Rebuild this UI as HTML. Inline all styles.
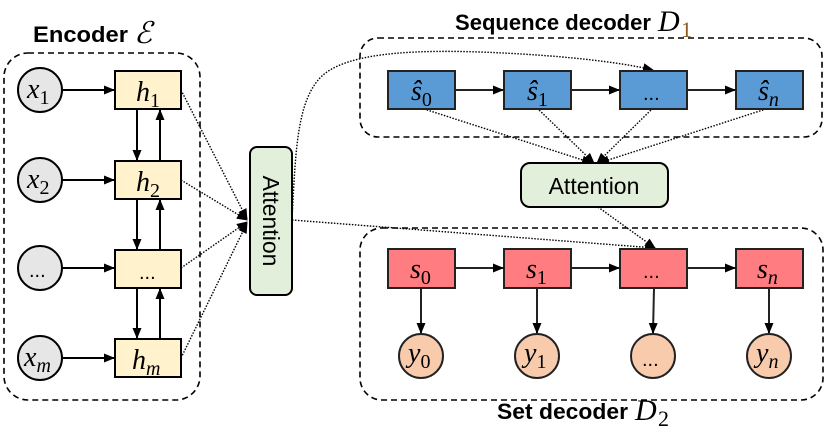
<!DOCTYPE html>
<html><head><meta charset="utf-8"><style>
html,body{margin:0;padding:0;background:#fff;}
svg{display:block;}
.t{font-family:"Liberation Sans",sans-serif;font-weight:bold;font-size:22px;fill:#000;}
.m{font-family:"Liberation Serif",serif;font-style:italic;font-size:28px;fill:#000;}
.s{font-family:"Liberation Serif",serif;font-size:20px;fill:#000;font-style:normal;}
.d{font-family:"Liberation Sans",sans-serif;font-size:20px;fill:#000;}
</style></head><body>
<svg width="830" height="439" viewBox="0 0 830 439" xmlns="http://www.w3.org/2000/svg">
<defs>
<marker id="a" markerWidth="11" markerHeight="9" refX="10" refY="4.5" orient="auto" markerUnits="userSpaceOnUse"><path d="M0,0 L11,4.5 L0,9 Z" fill="#000"/></marker>
</defs>
<!-- titles -->
<text class="t" x="33" y="42" textLength="95" lengthAdjust="spacingAndGlyphs">Encoder</text>
<text class="m" x="134" y="43" style="font-size:30px">ℰ</text>
<text class="t" x="455" y="30" textLength="196" lengthAdjust="spacingAndGlyphs">Sequence decoder</text>
<text class="m" x="658" y="31" style="font-size:30px">D</text>
<text class="s" x="681" y="37" style="fill:#8a5a20;font-size:22px">1</text>
<text class="t" x="497" y="419" textLength="131" lengthAdjust="spacingAndGlyphs">Set decoder</text>
<text class="m" x="635" y="420" style="font-size:30px">D</text>
<text class="s" x="658" y="426" style="font-size:22px">2</text>
<!-- dashed containers -->
<rect x="4" y="53" width="196" height="347" rx="24" fill="none" stroke="#000" stroke-width="1.6" stroke-dasharray="6,4"/>
<rect x="360" y="38" width="462" height="99" rx="18" fill="none" stroke="#000" stroke-width="1.6" stroke-dasharray="6,4"/>
<rect x="360" y="228" width="463" height="172" rx="22" fill="none" stroke="#000" stroke-width="1.6" stroke-dasharray="6,4"/>
<!-- encoder -->
<g stroke="#000" stroke-width="2">
<circle cx="40" cy="90" r="22" fill="#e6e6e6"/>
<circle cx="40" cy="180" r="22" fill="#e6e6e6"/>
<circle cx="40" cy="268" r="22" fill="#e6e6e6"/>
<circle cx="40" cy="358" r="22" fill="#e6e6e6"/>
<rect x="115" y="71" width="66" height="38" fill="#fff2cc"/>
<rect x="115" y="161" width="66" height="38" fill="#fff2cc"/>
<rect x="115" y="250" width="66" height="38" fill="#fff2cc"/>
<rect x="115" y="339" width="66" height="38" fill="#fff2cc"/>
<line x1="62" y1="90" x2="114" y2="90" marker-end="url(#a)"/>
<line x1="62" y1="180" x2="114" y2="180" marker-end="url(#a)"/>
<line x1="62" y1="268" x2="114" y2="268" marker-end="url(#a)"/>
<line x1="62" y1="358" x2="114" y2="358" marker-end="url(#a)"/>
<line x1="137" y1="109" x2="137" y2="160" marker-end="url(#a)"/>
<line x1="160" y1="161" x2="160" y2="110" marker-end="url(#a)"/>
<line x1="137" y1="199" x2="137" y2="249" marker-end="url(#a)"/>
<line x1="160" y1="250" x2="160" y2="200" marker-end="url(#a)"/>
<line x1="137" y1="288" x2="137" y2="338" marker-end="url(#a)"/>
<line x1="160" y1="339" x2="160" y2="289" marker-end="url(#a)"/>
</g>
<text class="m" x="27" y="98">x<tspan class="s" dy="6">1</tspan></text>
<text class="m" x="27" y="188">x<tspan class="s" dy="6">2</tspan></text>
<text class="d" x="29" y="277">...</text>
<text class="m" x="24" y="366">x<tspan class="s" dy="6" style="font-style:italic">m</tspan></text>
<text class="m" x="136" y="101">h<tspan class="s" dy="6">1</tspan></text>
<text class="m" x="136" y="191">h<tspan class="s" dy="6">2</tspan></text>
<text class="d" x="139" y="279">...</text>
<text class="m" x="132" y="369">h<tspan class="s" dy="6" style="font-style:italic">m</tspan></text>
<!-- attention 1 -->
<rect x="250" y="147" width="42" height="148" rx="7" fill="#e2efda" stroke="#000" stroke-width="2"/>
<text class="d" transform="translate(263,221) rotate(90)" text-anchor="middle" style="font-size:23px">Attention</text>
<g stroke="#000" stroke-width="1.4" stroke-dasharray="1.5,1.5" fill="none">
<line x1="181" y1="90" x2="247" y2="219" marker-end="url(#a)"/>
<line x1="181" y1="180" x2="247" y2="220" marker-end="url(#a)"/>
<line x1="181" y1="268" x2="247" y2="222" marker-end="url(#a)"/>
<line x1="181" y1="358" x2="247" y2="223" marker-end="url(#a)"/>
<path d="M292,218 C296,150 296,90 330,70 C360,52 420,50 480,52 C560,55 620,62 653,70" marker-end="url(#a)"/>
<path d="M292,220 L655,248" marker-end="url(#a)"/>
<line x1="421" y1="108" x2="592" y2="163" marker-end="url(#a)"/>
<line x1="537" y1="108" x2="594" y2="163" marker-end="url(#a)"/>
<line x1="653" y1="108" x2="597" y2="163" marker-end="url(#a)"/>
<line x1="769" y1="108" x2="599" y2="163" marker-end="url(#a)"/>
<line x1="598" y1="207" x2="655" y2="248" marker-end="url(#a)"/>
</g>
<!-- seq decoder -->
<g stroke="#222" stroke-width="2">
<rect x="388" y="71" width="67" height="38" fill="#5b9bd5"/>
<rect x="504" y="71" width="67" height="38" fill="#5b9bd5"/>
<rect x="620" y="71" width="67" height="38" fill="#5b9bd5"/>
<rect x="736" y="71" width="67" height="38" fill="#5b9bd5"/>
<line x1="455" y1="90" x2="503" y2="90" marker-end="url(#a)"/>
<line x1="571" y1="90" x2="619" y2="90" marker-end="url(#a)"/>
<line x1="687" y1="90" x2="735" y2="90" marker-end="url(#a)"/>
</g>
<text class="m" x="411" y="100">ŝ<tspan class="s" dy="6">0</tspan></text>
<text class="m" x="527" y="100">ŝ<tspan class="s" dy="6">1</tspan></text>
<text class="d" x="643" y="100">...</text>
<text class="m" x="758" y="100">ŝ<tspan class="s" dy="6" style="font-style:italic">n</tspan></text>
<!-- attention 2 -->
<rect x="521" y="163" width="147" height="44" rx="9" fill="#e2efda" stroke="#000" stroke-width="2"/>
<text class="d" x="594" y="194" text-anchor="middle" style="font-size:23px">Attention</text>
<!-- set decoder -->
<g stroke="#222" stroke-width="2">
<rect x="388" y="249" width="67" height="39" fill="#ff7c80"/>
<rect x="504" y="249" width="67" height="39" fill="#ff7c80"/>
<rect x="620" y="249" width="67" height="39" fill="#ff7c80"/>
<rect x="736" y="249" width="67" height="39" fill="#ff7c80"/>
<line x1="455" y1="268" x2="503" y2="268" marker-end="url(#a)"/>
<line x1="571" y1="268" x2="619" y2="268" marker-end="url(#a)"/>
<line x1="687" y1="268" x2="735" y2="268" marker-end="url(#a)"/>
<line x1="421" y1="288" x2="421" y2="333" marker-end="url(#a)"/>
<line x1="537" y1="288" x2="537" y2="333" marker-end="url(#a)"/>
<line x1="654" y1="288" x2="653" y2="333" marker-end="url(#a)"/>
<line x1="769" y1="288" x2="769" y2="333" marker-end="url(#a)"/>
<circle cx="421" cy="356" r="22" fill="#f8cbad"/>
<circle cx="537" cy="356" r="22" fill="#f8cbad"/>
<circle cx="653" cy="356" r="22" fill="#f8cbad"/>
<circle cx="769" cy="356" r="22" fill="#f8cbad"/>
</g>
<text class="m" x="410" y="278">s<tspan class="s" dy="6">0</tspan></text>
<text class="m" x="526" y="278">s<tspan class="s" dy="6">1</tspan></text>
<text class="d" x="643" y="278">...</text>
<text class="m" x="757" y="278">s<tspan class="s" dy="6" style="font-style:italic">n</tspan></text>
<text class="m" x="408" y="362">y<tspan class="s" dy="6">0</tspan></text>
<text class="m" x="524" y="362">y<tspan class="s" dy="6">1</tspan></text>
<text class="d" x="642" y="366">...</text>
<text class="m" x="756" y="362">y<tspan class="s" dy="6" style="font-style:italic">n</tspan></text>
</svg>
</body></html>
